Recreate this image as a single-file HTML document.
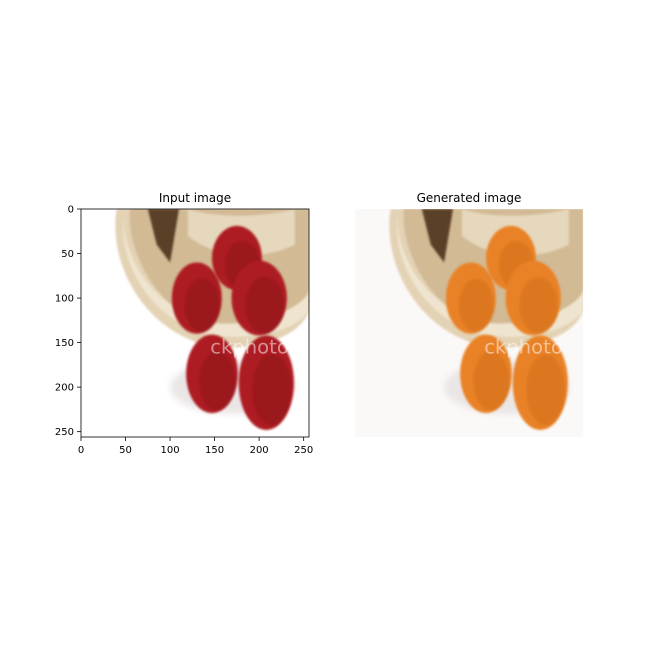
<!DOCTYPE html>
<html><head><meta charset="utf-8"><style>
body{margin:0;background:#fff;}
svg{display:block;font-family:"DejaVu Sans","Liberation Sans",sans-serif;}
</style></head><body>
<svg id="s" width="648" height="648" viewBox="0 0 648 648">
<rect width="648" height="648" fill="#fff"/>
<text x="195" y="202" font-size="12" text-anchor="middle">Input image</text>
<text x="469" y="202" font-size="12" text-anchor="middle">Generated image</text>
<defs>
<filter id="bl"><feGaussianBlur stdDeviation="1.2"/></filter>
<filter id="bl2"><feGaussianBlur stdDeviation="4"/></filter>
<clipPath id="c1"><rect x="0" y="0" width="256" height="256"/></clipPath>
</defs>
<g id="left" transform="translate(81,209) scale(0.891)" clip-path="url(#c1)"></g>
<g id="right" transform="translate(355,209) scale(0.891)" clip-path="url(#c1)"></g>
<rect x="81" y="209" width="228" height="228" fill="none" stroke="#000" stroke-width="0.8"/>
<g id="ticks"></g>
</svg>
<script>
const apples=[[175,55,28,36],[130,100,28,40],[200,100,31,42],[147,185,29,44],[208,195,31,53]];
const ticks=[0,50,100,150,200,250];
const NS="http://www.w3.org/2000/svg";
function mk(p,t,a){const e=document.createElementNS(NS,t);for(const k in a)e.setAttribute(k,a[k]);p.appendChild(e);return e;}
function draw(g,col,dark,gen){
  if(gen){mk(g,'rect',{x:0,y:0,width:256,height:256,fill:'#fbf8f8'});}
  mk(g,'ellipse',{cx:170,cy:200,rx:70,ry:30,fill:'#ebe6e6',filter:'url(#bl2)'});
  mk(g,'path',{d:'M40,0 C30,60 70,140 150,155 C220,160 256,130 256,110 L256,0 Z',fill:'#e3d2b4',filter:'url(#bl)'});
  mk(g,'path',{d:'M55,0 C50,50 90,120 150,135 C210,140 250,110 256,90 L256,0 Z',fill:'#d2ba95',filter:'url(#bl)'});
  mk(g,'path',{d:'M48,5 C45,50 80,115 150,128 C205,132 245,110 256,95 L256,115 C240,135 200,148 150,142 C80,130 40,60 48,5 Z',fill:'#efe4cf',filter:'url(#bl)'});
  mk(g,'path',{d:'M75,0 L110,0 L100,60 L85,40 Z',fill:'#5a4028',filter:'url(#bl)'});
  mk(g,'path',{d:'M120,0 C150,10 200,10 240,0 L240,40 C200,60 150,55 120,30 Z',fill:'#e6d8bd',filter:'url(#bl)'});
  for(let i=0;i<apples.length;i++){
    const a=apples[i];
    const e=mk(g,'ellipse',{cx:a[0],cy:a[1],rx:a[2],ry:a[3],fill:col,filter:'url(#bl)'});
    
    
    mk(g,'ellipse',{cx:a[0]+6,cy:a[1]+8,rx:a[2]*0.7,ry:a[3]*0.75,fill:dark,opacity:0.25,filter:'url(#bl)'});
  }
  const t=mk(g,'text',{x:145,y:162,'font-size':22,fill:'#fff',opacity:0.5});t.textContent='ckphoto';
}
draw(document.getElementById('left'),'#ad1a22','#6a0810',false);
draw(document.getElementById('right'),'#e98226','#b85a10',true);
const tg=document.getElementById('ticks');
ticks.forEach(v=>{
  const p=81+v*228/256, q=209+v*228/256;
  mk(tg,'line',{x1:p,y1:437,x2:p,y2:441,stroke:'#000','stroke-width':0.8});
  const tx=mk(tg,'text',{x:p,y:453,'font-size':10,'text-anchor':'middle'});tx.textContent=v;
  
  
  mk(tg,'line',{x1:77,y1:q,x2:81,y2:q,stroke:'#000','stroke-width':0.8});
  const ty=mk(tg,'text',{x:74,y:q+3.5,'font-size':10,'text-anchor':'end'});ty.textContent=v;
  
  
});
</script>
</body></html>
